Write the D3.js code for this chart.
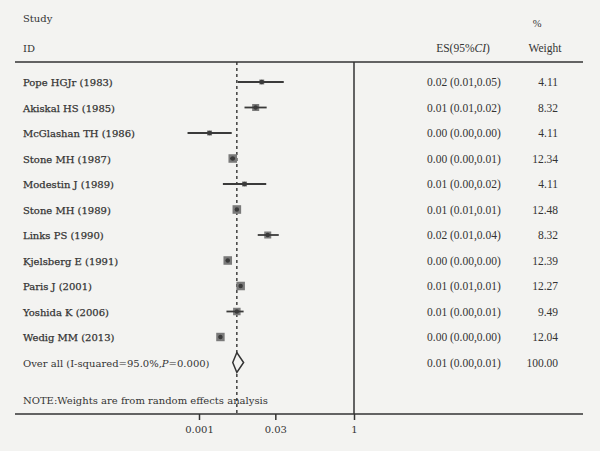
<!DOCTYPE html>
<html>
<head>
<meta charset="utf-8">
<script src="https://cdn.jsdelivr.net/npm/d3@7"></script>
<style>
html,body{margin:0;padding:0;background:#f3f3f1;}
svg{display:block;}
</style>
</head>
<body>
<svg id="chart" width="600" height="451"></svg>
<script>
// ---- data ----
const studies = ["Pope HGJr (1983)","Akiskal HS (1985)","McGlashan TH (1986)","Stone MH (1987)","Modestin J (1989)","Stone MH (1989)","Links PS (1990)","Kjelsberg E (1991)","Paris J (2001)","Yoshida K (2006)","Wedig MM (2013)"];
const es    = [0.0164,0.0125,0.0016,0.0045,0.0076,0.0054,0.0214,0.0036,0.0064,0.0054,0.0026];
const lower = [0.0056,0.0076,0.0006,0.0040,0.0029,0.0050,0.0137,0.0033,0.0060,0.0034,0.0024];
const upper = [0.0437,0.0204,0.0043,0.0050,0.0200,0.0058,0.0350,0.0039,0.0068,0.0073,0.0028];
const weights = [4.11,8.32,4.11,12.34,4.11,12.48,8.32,12.39,12.27,9.49,12.04];
const esText = ["0.02 (0.01,0.05)","0.01 (0.01,0.02)","0.00 (0.00,0.00)","0.00 (0.00,0.01)","0.01 (0.00,0.02)","0.01 (0.01,0.01)","0.02 (0.01,0.04)","0.00 (0.00,0.00)","0.01 (0.01,0.01)","0.01 (0.00,0.01)","0.00 (0.00,0.00)"];
const weightText = ["4.11","8.32","4.11","12.34","4.11","12.48","8.32","12.39","12.27","9.49","12.04"];
const overall = {es:0.0054, lower:0.0045, upper:0.0073, esText:"0.01 (0.00,0.01)", weightText:"100.00"};
const tickValues = [0.001, 0.03, 1];
const tickLabels = ["0.001", "0.03", "1"];

// ---- layout ----
const svg = d3.select("#chart");
const ink = "#333";
const labelFont = "'DejaVu Serif', serif";
const numFont = "'Liberation Serif', 'Times New Roman', serif";

const x = d3.scaleLog().domain([0.001, 1]).range([199, 354]); // extrapolates
const y = d3.scaleLinear().domain([0, 11]).range([82, 362.5]);
const size = d3.scaleSqrt().domain([0, 12.5]).range([0, 8.6]);

const topY = 62, axisY = 414, left = 15, right = 583;

// header
const hdr = svg.append("g").attr("fill", ink);
hdr.append("text").attr("x", 23).attr("y", 22).attr("font-family", labelFont).attr("font-size", 10).text("Study");
hdr.append("text").attr("x", 23).attr("y", 52).attr("font-family", labelFont).attr("font-size", 10).text("ID");
const esH = hdr.append("text").attr("x", 463).attr("y", 52).attr("text-anchor", "middle").attr("font-family", numFont).attr("font-size", 11.5);
esH.append("tspan").text("ES(95%");
esH.append("tspan").attr("font-style", "italic").text("CI");
esH.append("tspan").text(")");
hdr.append("text").attr("x", 537).attr("y", 27).attr("text-anchor", "middle").attr("font-family", numFont).attr("font-size", 10.5).text("%");
hdr.append("text").attr("x", 545).attr("y", 52).attr("text-anchor", "middle").attr("font-family", numFont).attr("font-size", 11.5).text("Weight");

// horizontal rules
svg.append("line").attr("x1", left).attr("x2", right).attr("y1", topY).attr("y2", topY).attr("stroke", ink).attr("stroke-width", 1.6);
svg.append("line").attr("x1", left).attr("x2", right).attr("y1", axisY).attr("y2", axisY).attr("stroke", ink).attr("stroke-width", 1.6);

// null line at 1
svg.append("line").attr("x1", x(1)).attr("x2", x(1)).attr("y1", topY).attr("y2", axisY).attr("stroke", ink).attr("stroke-width", 1.5);
// overall dashed line
svg.append("line").attr("x1", x(overall.es)).attr("x2", x(overall.es)).attr("y1", topY).attr("y2", axisY)
  .attr("stroke", ink).attr("stroke-width", 1.4).attr("stroke-dasharray", "3,3");

// axis
const axis = d3.axisBottom(x).tickValues(tickValues).tickFormat((d, i) => tickLabels[i]).tickSize(6).tickPadding(4);
const ax = svg.append("g").attr("transform", `translate(0,${axisY})`).call(axis);
ax.select(".domain").remove();
ax.selectAll(".tick line").attr("stroke", ink).attr("stroke-width", 1.5);
ax.selectAll(".tick text").attr("fill", ink).attr("font-family", labelFont).attr("font-size", 10).attr("dy", "0.9em");

// study rows
const rows = svg.append("g");
studies.forEach((s, i) => {
  const g = rows.append("g");
  g.append("text").attr("x", 23).attr("y", y(i) + 4).attr("font-family", labelFont).attr("font-size", 10).attr("fill", ink)
    .attr("stroke", ink).attr("stroke-width", 0.25).text(s);
  const sz = size(weights[i]);
  g.append("rect").attr("x", x(es[i]) - sz / 2).attr("y", y(i) - sz / 2).attr("width", sz).attr("height", sz).attr("fill", "#7a7a7a");
  g.append("line").attr("x1", x(lower[i])).attr("x2", x(upper[i])).attr("y1", y(i)).attr("y2", y(i)).attr("stroke", "#3a3a3a").attr("stroke-width", 1.8);
  g.append("circle").attr("cx", x(es[i])).attr("cy", y(i)).attr("r", 2.2).attr("fill", "#3a3a3a");
  g.append("text").attr("x", 427).attr("y", y(i) + 4).attr("font-family", numFont).attr("font-size", 11.5).attr("fill", ink).text(esText[i]);
  g.append("text").attr("x", 558).attr("y", y(i) + 4).attr("text-anchor", "end").attr("font-family", numFont).attr("font-size", 11.5).attr("fill", ink).text(weightText[i]);
});

// overall row
const oy = y(11);
const ol = svg.append("text").attr("x", 23).attr("y", oy + 4).attr("font-family", labelFont).attr("font-size", 10).attr("fill", ink);
ol.append("tspan").text("Over all (I-squared=95.0%,");
ol.append("tspan").attr("font-style", "italic").text("P");
ol.append("tspan").text("=0.000)");
svg.append("path")
  .attr("d", `M${x(overall.lower)},${oy} L${x(overall.es)},${oy - 10} L${x(overall.upper)},${oy} L${x(overall.es)},${oy + 10} Z`)
  .attr("fill", "#f3f3f1").attr("stroke", ink).attr("stroke-width", 1.5);
svg.append("text").attr("x", 427).attr("y", oy + 4).attr("font-family", numFont).attr("font-size", 11.5).attr("fill", ink).text(overall.esText);
svg.append("text").attr("x", 558).attr("y", oy + 4).attr("text-anchor", "end").attr("font-family", numFont).attr("font-size", 11.5).attr("fill", ink).text(overall.weightText);

// note
svg.append("text").attr("x", 23).attr("y", 404).attr("font-family", labelFont).attr("font-size", 10).attr("fill", ink)
  .text("NOTE:Weights are from random effects analysis");
</script>
</body>
</html>
